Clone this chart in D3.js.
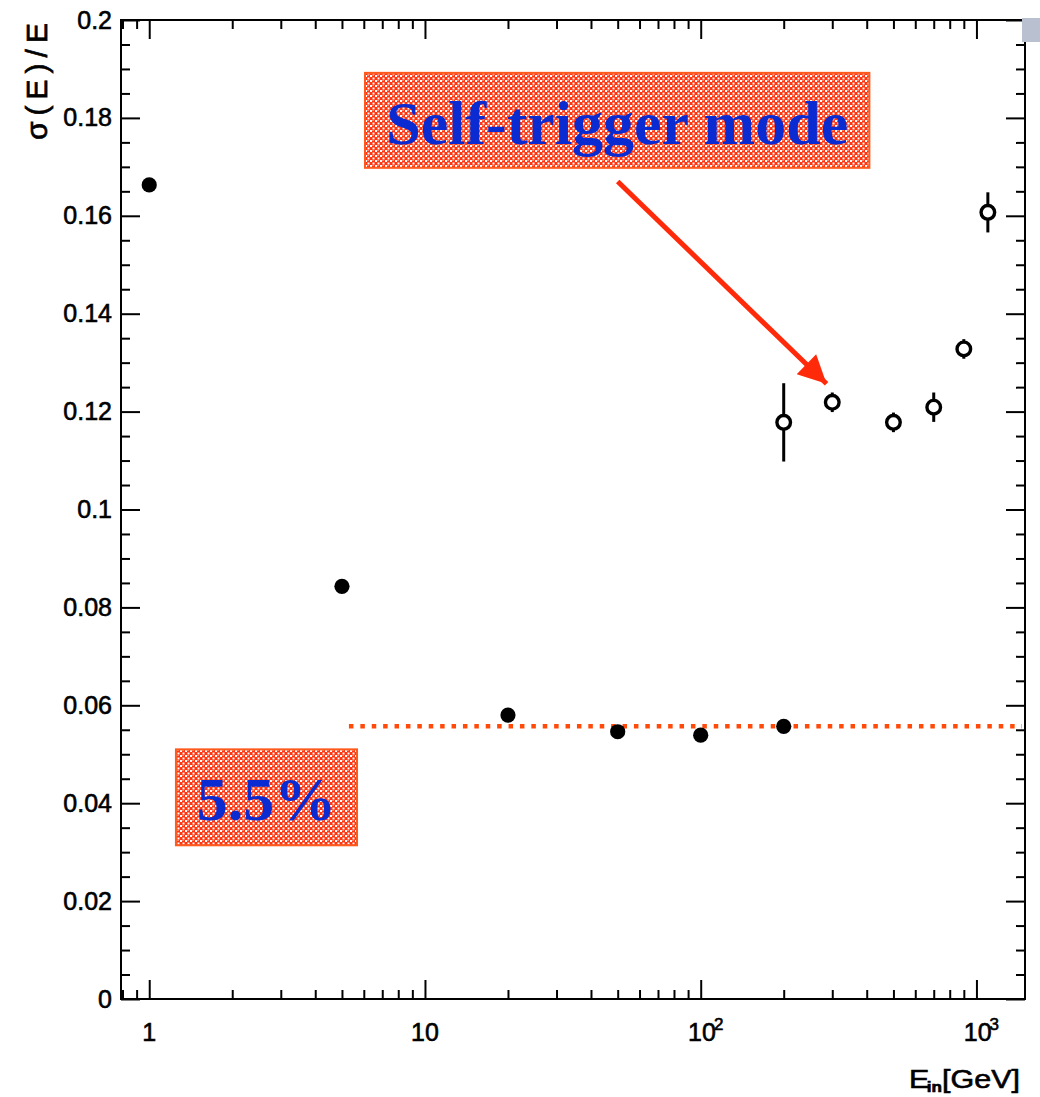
<!DOCTYPE html>
<html>
<head>
  <meta charset="utf-8">
  <title>Energy resolution</title>
  <script src="https://d3js.org/d3.v7.min.js"></script>
  <style>
    body { margin: 0; background: #fff; }
    svg { display: block; }
  </style>
</head>
<body>

<svg></svg>

<script>

// filled points (normal mode)
var filledE   = [1, 5, 20, 50, 100, 200]
var filledRes = [0.1663, 0.0843, 0.0580, 0.0546, 0.0539, 0.0557]
var filledErr = [0.0005, 0.0005, 0.0004, 0.0004, 0.0004, 0.0004]

// open points (self-trigger mode)
var openE   = [200, 300, 500, 700, 900, 1100]
var openRes = [0.1178, 0.1219, 0.1178, 0.1209, 0.1328, 0.1607]
var openErr = [0.0080, 0.0020, 0.0020, 0.0030, 0.0020, 0.0041]

var yMajor = [0, 0.02, 0.04, 0.06, 0.08, 0.1, 0.12, 0.14, 0.16, 0.18, 0.2]
var xMajor = [1, 10, 100, 1000]
var xMajorLabels = [['1', ''], ['10', ''], ['10', '2'], ['10', '3']]

// annotation values
var lineLevel = 0.0557
var lineStartE = 5.3
var boxTrigger = {e0: 6.06, e1: 409, r0: 0.1892, r1: 0.1698, text: 'Self-trigger mode'}
var boxLevel   = {e0: 1.25, e1: 5.67, r0: 0.0510, r1: 0.0314, text: '5.5%'}
var arrowFrom = [50, 0.167]
var arrowTo   = [286, 0.1257]

var W = 1040, H = 1097
var pLeft = 121, pTop = 20, pRight = 1025, pBottom = 999

var svg = d3.select('svg')
  .attr('width', W)
  .attr('height', H)

var x = d3.scaleLog().domain([0.79, 1500]).range([pLeft, pRight])
var y = d3.scaleLinear().domain([0, 0.2]).range([pBottom, pTop])

var yMinor = d3.range(0, 0.2001, 0.005).map((d) => +d.toFixed(3))
  .filter((d) => yMajor.indexOf(d) < 0)
var xMinor = []
;[0.1, 1, 10, 100, 1000].forEach((dec) => {
  for (var k = 2; k <= 9; k++) {
    var v = +(dec * k).toFixed(3)
    if (v > 0.79 && v < 1500 && xMajor.indexOf(v) < 0) xMinor.push(v)
  }
})

var font = 'Liberation Sans, Arial, Helvetica, sans-serif'

// ---- axes ----
function styleAxis(g) {
  g.select('.domain').remove()
  g.selectAll('line').attr('stroke', '#000').attr('stroke-width', 2)
  g.selectAll('text').attr('font-family', font).attr('font-size', 25).attr('fill', '#000')
    .attr('stroke', '#000').attr('stroke-width', 0.6)
}

svg.append('g')
  .attr('transform', 'translate(' + pLeft + ',0)')
  .call(d3.axisLeft(y).tickValues(yMajor).tickSize(-19).tickPadding(9)
    .tickFormat((d) => d === 0 ? '0' : d3.format('~g')(d)))
  .call(styleAxis)

svg.append('g')
  .attr('transform', 'translate(' + pLeft + ',0)')
  .call(d3.axisLeft(y).tickValues(yMinor).tickSize(-9).tickFormat(''))
  .call(styleAxis)

svg.append('g')
  .attr('transform', 'translate(' + pRight + ',0)')
  .call(d3.axisRight(y).tickValues(yMajor).tickSize(-19).tickFormat(''))
  .call(styleAxis)

svg.append('g')
  .attr('transform', 'translate(' + pRight + ',0)')
  .call(d3.axisRight(y).tickValues(yMinor).tickSize(-9).tickFormat(''))
  .call(styleAxis)

svg.append('g')
  .attr('transform', 'translate(0,' + pBottom + ')')
  .call(d3.axisBottom(x).tickValues(xMajor).tickSize(-19).tickFormat(''))
  .call(styleAxis)

svg.append('g')
  .attr('transform', 'translate(0,' + pBottom + ')')
  .call(d3.axisBottom(x).tickValues(xMinor).tickSize(-9).tickFormat(''))
  .call(styleAxis)

svg.append('g')
  .attr('transform', 'translate(0,' + pTop + ')')
  .call(d3.axisTop(x).tickValues(xMajor).tickSize(-19).tickFormat(''))
  .call(styleAxis)

svg.append('g')
  .attr('transform', 'translate(0,' + pTop + ')')
  .call(d3.axisTop(x).tickValues(xMinor).tickSize(-9).tickFormat(''))
  .call(styleAxis)

// x labels with superscripts
xMajor.forEach((v, i) => {
  var t = svg.append('text')
    .attr('x', x(v) + (xMajorLabels[i][1] ? 5 : 0))
    .attr('y', pBottom + 42)
    .attr('text-anchor', 'middle')
    .attr('font-family', font)
    .attr('font-size', 25)
    .attr('fill', '#000')
    .attr('stroke', '#000').attr('stroke-width', 0.6)
  t.append('tspan').text(xMajorLabels[i][0])
  if (xMajorLabels[i][1]) {
    t.append('tspan').attr('dy', -11).attr('dx', -2).attr('font-size', 17).text(xMajorLabels[i][1])
  }
})

// frame
svg.append('rect')
  .attr('x', pLeft).attr('y', pTop)
  .attr('width', pRight - pLeft).attr('height', pBottom - pTop)
  .attr('fill', 'none').attr('stroke', '#000').attr('stroke-width', 2)

// axis titles
svg.append('text')
  .attr('transform', 'translate(47,23) rotate(-90)')
  .attr('text-anchor', 'end')
  .attr('font-family', font)
  .attr('font-size', 30)
  .attr('textLength', 117)
  .attr('lengthAdjust', 'spacing')
  .attr('stroke', '#000').attr('stroke-width', 0.7)
  .text('σ(E)/E')

var xt = svg.append('text')
  .attr('transform', 'translate(1020,1088) scale(1.22,1)')
  .attr('text-anchor', 'end')
  .attr('font-family', font)
  .attr('font-size', 25)
  .attr('stroke', '#000').attr('stroke-width', 0.6)
xt.append('tspan').text('E')
xt.append('tspan').attr('dy', 4).attr('dx', -2).attr('font-size', 14).attr('font-weight', 'bold').text('in')
xt.append('tspan').attr('dy', -4).text('[GeV]')

// ---- pattern for boxes ----
var defs = svg.append('defs')
var pat = defs.append('pattern')
  .attr('id', 'chk')
  .attr('patternUnits', 'userSpaceOnUse')
  .attr('width', 5).attr('height', 5)
pat.append('rect').attr('width', 5).attr('height', 5).attr('fill', '#ff3410')
pat.append('rect').attr('x', 0).attr('y', 0).attr('width', 2).attr('height', 2).attr('fill', '#fff')
pat.append('rect').attr('x', 2.5).attr('y', 2.5).attr('width', 2).attr('height', 2).attr('fill', '#fff')
pat.append('rect').attr('x', 2.5).attr('y', 0).attr('width', 1).attr('height', 1).attr('fill', '#ffd0c0')

var arrowMarker = defs.append('marker')
  .attr('id', 'ah')
  .attr('viewBox', '0 0 10 10')
  .attr('refX', 10).attr('refY', 5)
  .attr('markerUnits', 'userSpaceOnUse')
  .attr('markerWidth', 32).attr('markerHeight', 28)
  .attr('orient', 'auto')
arrowMarker.append('path').attr('d', 'M0,0 L10,5 L0,10 Z').attr('fill', '#ff2a0a')

// ---- dotted level line ----
svg.append('line')
  .attr('x1', x(lineStartE)).attr('x2', pRight - 3)
  .attr('y1', y(lineLevel)).attr('y2', y(lineLevel))
  .attr('stroke', '#ff4a0a')
  .attr('stroke-width', 4.5)
  .attr('stroke-dasharray', '4.5,6.9')

// ---- data ----
var filled = filledE.map((e, i) => ({e: e, r: filledRes[i], err: filledErr[i]}))
var open = openE.map((e, i) => ({e: e, r: openRes[i], err: openErr[i]}))

svg.selectAll('.errOpen')
  .data(open)
  .enter()
  .append('line')
  .classed('errOpen', true)
  .attr('x1', (d) => x(d.e)).attr('x2', (d) => x(d.e))
  .attr('y1', (d) => y(d.r - d.err)).attr('y2', (d) => y(d.r + d.err))
  .attr('stroke', '#000').attr('stroke-width', 3)

svg.selectAll('.ptOpen')
  .data(open)
  .enter()
  .append('circle')
  .classed('ptOpen', true)
  .attr('cx', (d) => x(d.e)).attr('cy', (d) => y(d.r))
  .attr('r', 6.8)
  .attr('fill', '#fff').attr('stroke', '#000').attr('stroke-width', 3.4)

svg.selectAll('.errFilled')
  .data(filled)
  .enter()
  .append('line')
  .classed('errFilled', true)
  .attr('x1', (d) => x(d.e)).attr('x2', (d) => x(d.e))
  .attr('y1', (d) => y(d.r - d.err)).attr('y2', (d) => y(d.r + d.err))
  .attr('stroke', '#000').attr('stroke-width', 3)

svg.selectAll('.ptFilled')
  .data(filled)
  .enter()
  .append('circle')
  .classed('ptFilled', true)
  .attr('cx', (d) => x(d.e)).attr('cy', (d) => y(d.r))
  .attr('r', 7.6)
  .attr('fill', '#000')

// ---- annotations ----
function drawBox(b, baselineOff) {
  var x0 = x(b.e0), x1 = x(b.e1), y0 = y(b.r0), y1 = y(b.r1)
  svg.append('rect')
    .attr('x', x0).attr('y', y0)
    .attr('width', x1 - x0).attr('height', y1 - y0)
    .attr('fill', 'url(#chk)')
    .attr('stroke', '#ff5a1e').attr('stroke-width', 2)
  svg.append('text')
    .attr('x', (x0 + x1) / 2)
    .attr('y', y0 + baselineOff)
    .attr('text-anchor', 'middle')
    .attr('font-family', 'Liberation Serif, Times New Roman, serif')
    .attr('font-weight', 'bold')
    .attr('font-size', 62)
    .attr('fill', '#0a2ad2')
    .text(b.text)
}
drawBox(boxTrigger, 71)
drawBox(boxLevel, 71)

svg.append('line')
  .attr('x1', x(arrowFrom[0])).attr('y1', y(arrowFrom[1]))
  .attr('x2', x(arrowTo[0])).attr('y2', y(arrowTo[1]))
  .attr('stroke', '#ff2a0a')
  .attr('stroke-width', 5)
  .attr('marker-end', 'url(#ah)')

// grey corner square
svg.append('rect')
  .attr('x', 1022).attr('y', 18)
  .attr('width', 18).attr('height', 24)
  .attr('fill', '#b9c0cf')

</script>

</body>
</html>
